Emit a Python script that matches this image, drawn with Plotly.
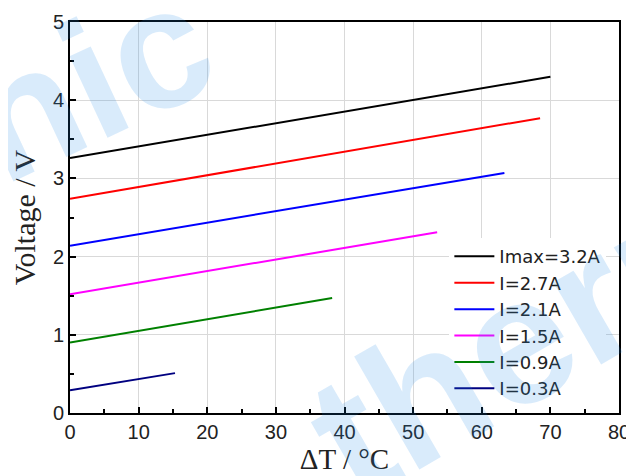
import plotly.graph_objects as go

names = ["Imax=3.2A", "I=2.7A", "I=2.1A", "I=1.5A", "I=0.9A", "I=0.3A"]
colors = ["#000000", "#ff0000", "#0000ff", "#ff00ff", "#008000", "#000080"]
dt_start = [0, 0, 0, 0, 0, 0]
dt_end = [70, 68.5, 63.3, 53.5, 38.2, 15.3]
v_start = [3.26, 2.74, 2.14, 1.52, 0.90, 0.29]
v_end = [4.30, 3.77, 3.07, 2.31, 1.47, 0.51]

fig = go.Figure()
for n, c, x0, x1, y0, y1 in zip(names, colors, dt_start, dt_end, v_start, v_end):
    fig.add_trace(go.Scatter(x=[x0, x1], y=[y0, y1], mode="lines", name=n,
                             line=dict(color=c, width=2)))

wm = "rgba(30,136,229,0.17)"
fig.add_annotation(x=0.035, y=0.85, xref="paper", yref="paper", text="<b>nic</b>", showarrow=False,
                   xanchor="center", yanchor="middle",
                   textangle=-25, font=dict(family="Liberation Sans", size=170, color=wm))
fig.add_annotation(x=0.86, y=0.22, xref="paper", yref="paper", text="<b>therm</b>", showarrow=False,
                   xanchor="center", yanchor="middle",
                   textangle=-30, font=dict(family="Liberation Sans", size=180, color=wm))

axis_common = dict(showline=True, linecolor="black", linewidth=2, mirror=True,
                   showgrid=True, gridcolor="#d9d9d9", gridwidth=1, zeroline=False,
                   ticks="inside", ticklen=6, tickcolor="black", tickwidth=1.5,
                   automargin=False,
                   tickfont=dict(family="Liberation Sans", size=20, color="#222"))
fig.update_xaxes(range=[0, 80], dtick=10,
                 minor=dict(dtick=5, ticks="inside", ticklen=4, tickcolor="black", showgrid=False),
                 title=dict(text="ΔT / °C", font=dict(family="Liberation Serif", size=29, color="#222"), standoff=2),
                 **axis_common)
fig.update_yaxes(range=[0, 5], dtick=1,
                 minor=dict(dtick=0.5, ticks="inside", ticklen=4, tickcolor="black", showgrid=False),
                 title=dict(text="Voltage / V", font=dict(family="Liberation Serif", size=30, color="#222"), standoff=10),
                 **axis_common)

# the page adds an 8px body margin, so the figure is 8px smaller than the window
fig.update_layout(width=626, height=468, margin=dict(l=62, r=15, t=14, b=63),
                  plot_bgcolor="white", paper_bgcolor="white",
                  legend=dict(x=0.691, y=0.015, xanchor="left", yanchor="bottom", bgcolor="white",
                              font=dict(family="DejaVu Sans", size=18, color="#222"),
                              tracegroupgap=0, itemwidth=40))
fig.write_html("out.html")
